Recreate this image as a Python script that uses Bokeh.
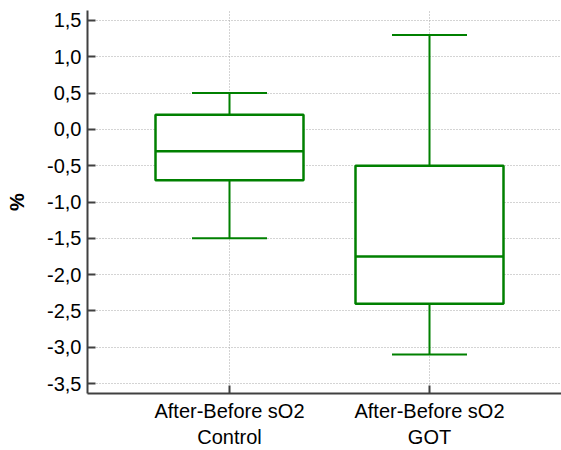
from bokeh.plotting import figure
from bokeh.models import FixedTicker, ColumnDataSource
from bokeh.embed import file_html
from bokeh.resources import INLINE

# Data
groups = ["After-Before sO2\nControl", "After-Before sO2\nGOT"]
whisker_low = [-1.5, -3.1]
q1 = [-0.7, -2.4]
median = [-0.3, -1.75]
q3 = [0.2, -0.5]
whisker_high = [0.5, 1.3]
y_ticks = [1.5, 1.0, 0.5, 0.0, -0.5, -1.0, -1.5, -2.0, -2.5, -3.0, -3.5]
y_tick_labels = ["1,5", "1,0", "0,5", "0,0", "-0,5", "-1,0", "-1,5", "-2,0", "-2,5", "-3,0", "-3,5"]

xs = [i + 1 for i in range(len(groups))]
box_hw = 0.37
cap_hw = 0.1875
green = "#008000"
font = "Liberation Sans"

p = figure(width=561, height=450, output_backend="svg", toolbar_location=None,
           x_range=(0.29, 2.66), y_range=(-3.637, 1.637),
           min_border_left=87, min_border_top=10, min_border_bottom=56, min_border_right=0)
p.outline_line_color = None
p.background_fill_color = "white"

src = ColumnDataSource(dict(
    x=xs, lo=whisker_low, q1=q1, med=median, q3=q3, hi=whisker_high,
    left=[x - box_hw for x in xs], right=[x + box_hw for x in xs],
    cl=[x - cap_hw for x in xs], cr=[x + cap_hw for x in xs],
))

# whiskers
p.segment(x0="x", y0="q3", x1="x", y1="hi", source=src, line_color=green, line_width=2)
p.segment(x0="x", y0="lo", x1="x", y1="q1", source=src, line_color=green, line_width=2)
p.segment(x0="cl", y0="hi", x1="cr", y1="hi", source=src, line_color=green, line_width=2)
p.segment(x0="cl", y0="lo", x1="cr", y1="lo", source=src, line_color=green, line_width=2)
# boxes
p.quad(left="left", right="right", bottom="q1", top="q3", source=src,
       fill_color="white", line_color=green, line_width=2.5)
p.segment(x0="left", y0="med", x1="right", y1="med", source=src, line_color=green, line_width=2.5)

# axes
p.xaxis.ticker = FixedTicker(ticks=xs)
p.xaxis.major_label_overrides = {x: g for x, g in zip(xs, groups)}
p.yaxis.ticker = FixedTicker(ticks=y_ticks)
p.yaxis.major_label_overrides = {t: l for t, l in zip(y_ticks, y_tick_labels)}
p.yaxis.axis_label = "%"
p.yaxis.axis_label_text_font_style = "bold"
p.yaxis.axis_label_text_font_size = "20px"
p.yaxis.axis_label_text_font = font
p.yaxis.axis_label_text_color = "black"
p.yaxis.axis_label_standoff = 16

for ax in (p.xaxis, p.yaxis):
    ax.axis_line_color = "#404040"
    ax.axis_line_width = 2
    ax.major_tick_line_color = "#404040"
    ax.major_tick_line_width = 2
    ax.major_tick_in = 8
    ax.major_tick_out = 0
    ax.minor_tick_line_color = None
    ax.major_label_text_font = font
    ax.major_label_text_font_size = "20px"
    ax.major_label_text_color = "black"

p.yaxis.major_label_standoff = 6
p.xaxis.major_label_standoff = 6

p.grid.grid_line_color = "#a8a8a8"
p.grid.grid_line_dash = "1 2"
p.grid.grid_line_width = 1

open("out.html", "w").write(file_html(p, INLINE))
